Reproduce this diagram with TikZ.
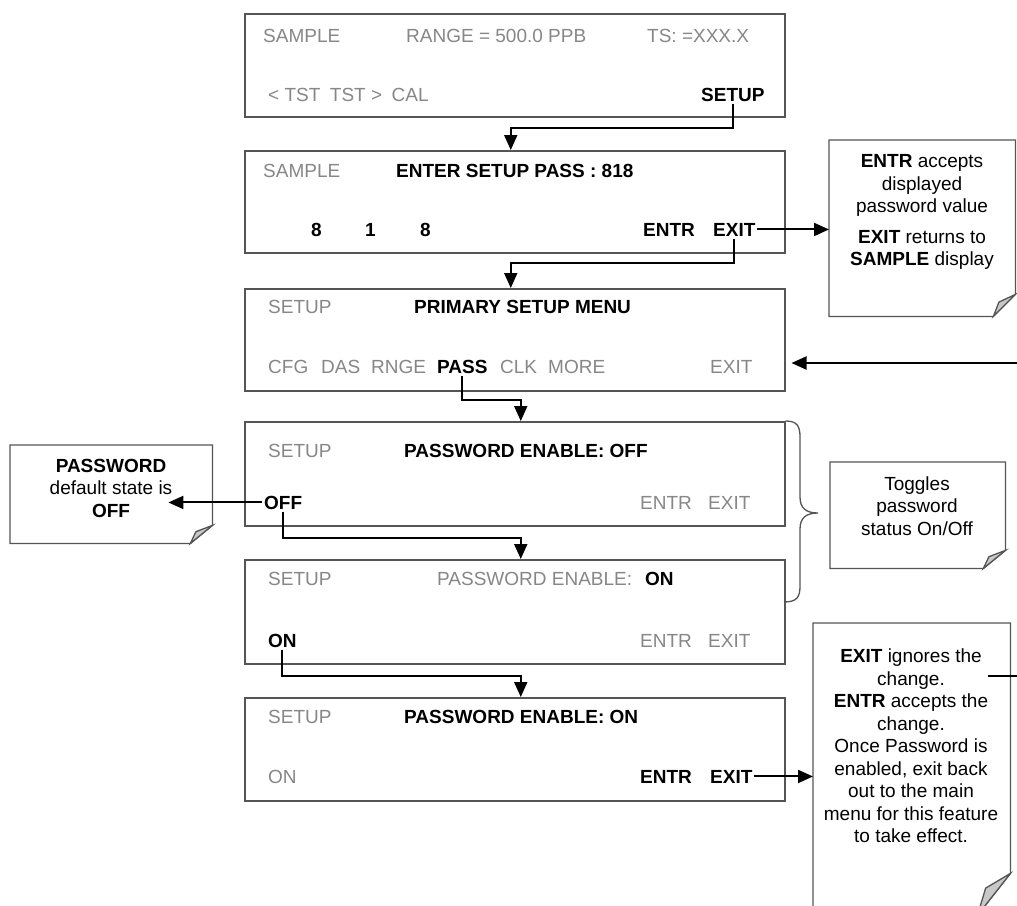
\documentclass[tikz,border=0pt]{standalone}
\usepackage{fontspec}
\setmainfont{Liberation Sans}
\usetikzlibrary{arrows.meta}
\definecolor{txtgray}{RGB}{135,135,135}
\definecolor{edgegray}{RGB}{85,85,85}
\definecolor{foldgray}{RGB}{200,200,200}
\newcommand\foldnote[3]{%
  \draw[noteline] (#1.north west) -- (#1.north east) -- ([yshift=#3]#1.south east) -- ([xshift=-#2]#1.south east) -- (#1.south west) -- cycle;
  \draw[noteline, fill=foldgray] ([yshift=#3]#1.south east) -- ([xshift=-0.75*#2, yshift=0.65*#3]#1.south east) -- ([xshift=-#2]#1.south east) -- cycle;}
\begin{document}
\begin{tikzpicture}[x=1pt,y=-1pt,
  every node/.style={font=\fontsize{19pt}{22.5pt}\selectfont},
  scr/.style={draw=edgegray, line width=1.5pt, minimum width=540pt, anchor=north west, inner sep=0pt},
  gt/.style={text=txtgray, anchor=base west, inner sep=0pt},
  bt/.style={text=black, font=\fontsize{19pt}{22.5pt}\selectfont\bfseries, anchor=base west, inner sep=0pt},
  conn/.style={line width=2pt, draw=black},
  arr/.style={conn, -{Triangle[length=15pt,width=13pt]}},
  notebox/.style={anchor=north west, inner sep=0pt},
  noteline/.style={draw=edgegray, line width=1.3pt, fill=white},
  notetext/.style={align=center, inner sep=0pt}
]
\fill[white] (0,0) rectangle (1017,905);
\useasboundingbox (0,0) rectangle (1017,905);

% screens
\node[scr, minimum height=103pt] (b1) at (244,13) {};
\node[scr, minimum height=102pt] (b2) at (244,150) {};
\node[scr, minimum height=102pt] (b3) at (244,288) {};
\node[scr, minimum height=104pt] (b4) at (244,421) {};
\node[scr, minimum height=104pt] (b5) at (244,559) {};
\node[scr, minimum height=103pt] (b6) at (244,697) {};

% box 1
\node[gt] (t1a) at (263,42) {SAMPLE};
\node[gt] (t1b) at (406,42) {RANGE = 500.0 PPB};
\node[gt] (t1c) at (647,42) {TS: =XXX.X};
\node[gt] (t1d) at (268,101) {< TST\enspace TST >\enspace CAL};
\node[bt] (setup1) at (701,101) {SETUP};

% box 2
\node[gt] (t2a) at (263,177) {SAMPLE};
\node[bt] (t2b) at (396,177) {ENTER SETUP PASS : 818};
\node[bt] (d1) at (311,236) {8};
\node[bt] (d2) at (365,236) {1};
\node[bt] (d3) at (420,236) {8};
\node[bt] (entr2) at (643,236) {ENTR};
\node[bt] (exit2) at (713,236) {EXIT};

% box 3
\node[gt] (t3a) at (268,313) {SETUP};
\node[bt] (t3b) at (414,313) {PRIMARY SETUP MENU};
\node[gt] (cfg) at (268,373) {CFG};
\node[gt] (das) at (321,373) {DAS};
\node[gt] (rnge) at (371,373) {RNGE};
\node[bt] (pass) at (437,373) {PASS};
\node[gt] (clk) at (500,373) {CLK};
\node[gt] (more) at (548,373) {MORE};
\node[gt] (exit3) at (710,373) {EXIT};

% box 4
\node[gt] (t4a) at (268,457) {SETUP};
\node[bt] (t4b) at (404,457) {PASSWORD ENABLE: OFF};
\node[bt] (off) at (264,509) {OFF};
\node[gt] (entr4) at (640,509) {ENTR};
\node[gt] (exit4) at (708,509) {EXIT};

% box 5
\node[gt] (t5a) at (268,585) {SETUP};
\node[gt] (t5b) at (437,585) {PASSWORD ENABLE:};
\node[bt] (on5b) at (645,585) {ON};
\node[bt] (on5) at (268,647) {ON};
\node[gt] (entr5) at (640,647) {ENTR};
\node[gt] (exit5) at (708,647) {EXIT};

% box 6
\node[gt] (t6a) at (268,723) {SETUP};
\node[bt] (t6b) at (404,723) {PASSWORD ENABLE: ON};
\node[gt] (on6) at (268,783) {ON};
\node[bt] (entr6) at (640,783) {ENTR};
\node[bt] (exit6) at (710,783) {EXIT};

% notes
\node[notebox, minimum width=186pt, minimum height=176pt] (n1) at (829,140) {};
\foldnote{n1}{22pt}{22pt}
\node[notetext] (n1t) at (922,212) {\textbf{ENTR} accepts\\displayed\\password value\\[8pt]\textbf{EXIT} returns to\\\textbf{SAMPLE} display};

\node[notebox, minimum width=202pt, minimum height=98pt] (n2) at (10,445) {};
\foldnote{n2}{22pt}{18pt}
\node[notetext] (n2t) at (111,488) {\textbf{PASSWORD}\\default state is\\\textbf{OFF}};

\node[notebox, minimum width=175pt, minimum height=106pt] (n3) at (830,462) {};
\foldnote{n3}{22pt}{18pt}
\node[notetext] (n3t) at (917,506) {Toggles\\password\\status On/Off};

\node[notebox, minimum width=197pt, minimum height=292pt] (n4) at (813,623) {};
\foldnote{n4}{33pt}{42pt}
\node[notetext] (n4t) at (911,746) {\textbf{EXIT} ignores the\\change.\\\textbf{ENTR} accepts the\\change.\\Once Password is\\enabled, exit back\\out to the main\\menu for this feature\\to take effect.};

% brace
\draw[edgegray, line width=1.3pt] (b4.north east) .. controls (797,421) and (800,426) .. (800,437) -- (800,497) .. controls (800,508) and (806,513) .. (818,513) .. controls (806,513) and (800,518) .. (800,529) -- (800,586) .. controls (800,597) and (797,602) .. (784,602);

% connectors
\coordinate (r4) at (1017,363);
\coordinate (l9) at (988,676);
\coordinate (r9) at (1017,676);
\draw[arr] ([yshift=-3pt]setup1.south) -- ++(0,24) -| ([xshift=-4pt]b2.north);
\draw[arr] ([yshift=-3pt]exit2.south) -- ++(0,24) -| ([xshift=-4pt]b3.north);
\draw[arr] ([xshift=1pt]exit2.east) -- (n1.west |- exit2.east);
\draw[arr] (r4) -- ([xshift=6pt]b3.east |- r4);
\draw[arr] ([yshift=-3pt]pass.south) -- ++(0,24) -| ([xshift=6pt]b4.north);
\draw[arr] ([xshift=-2pt]off.west) -- ([xshift=-44pt]n2.east |- off.west);
\draw[arr] ([yshift=-3pt]off.south) -- ++(0,26) -| ([xshift=6pt]b5.north);
\draw[arr] ([yshift=-3pt]on5.south) -- ++(0,26) -| ([xshift=6pt]b6.north);
\draw[arr] ([xshift=1pt]exit6.east) -- (n4.west |- exit6.east);
\draw[conn] (l9) -- (r9);
\end{tikzpicture}
\end{document}
